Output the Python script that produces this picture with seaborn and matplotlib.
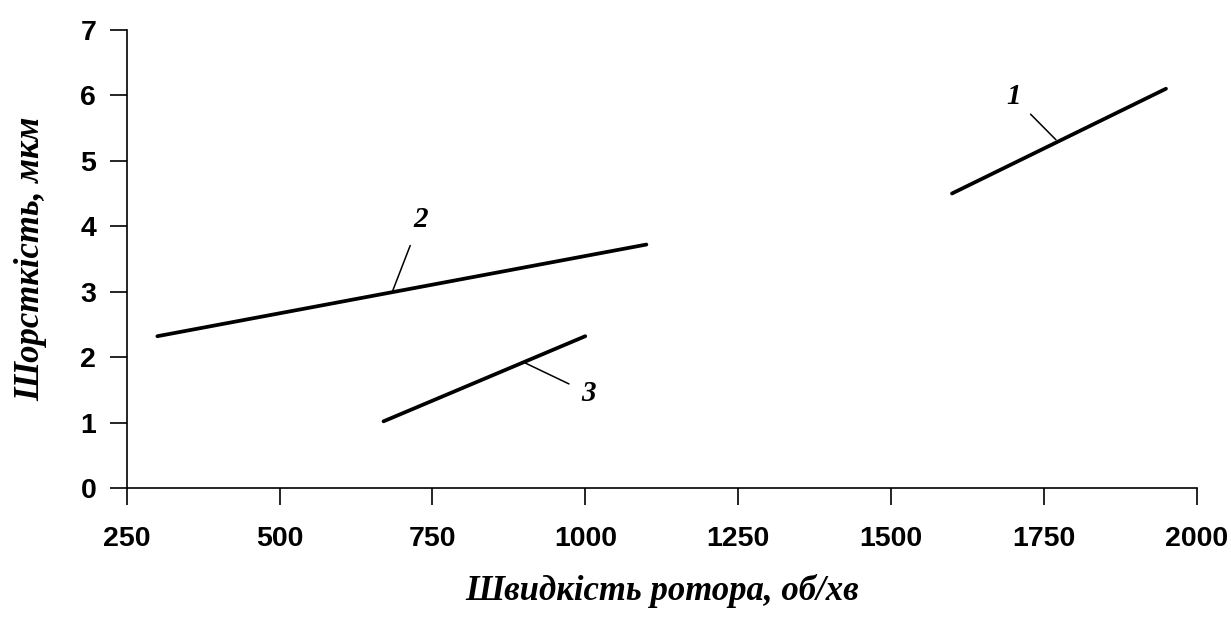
import matplotlib
matplotlib.use("Agg")
import matplotlib.pyplot as plt
import seaborn as sns
import pandas as pd

# Data
curve_names = ["1", "2", "3"]
speed_1 = [1600, 1950]
rough_1 = [4.5, 6.1]
speed_2 = [300, 1100]
rough_2 = [2.32, 3.72]
speed_3 = [670, 1000]
rough_3 = [1.02, 2.32]

x_ticks = [250, 500, 750, 1000, 1250, 1500, 1750, 2000]
y_ticks = [0, 1, 2, 3, 4, 5, 6, 7]

# label positions (text) and points on lines (leader targets)
label_text_xy = [(1700, 5.98), (730, 4.1), (1005, 1.45)]
label_point_xy = [(1770, 5.32), (684, 2.99), (902, 1.91)]

x_label = "Швидкість ротора, об/хв"
y_label = "Шорсткість, мкм"

df = pd.concat([
    pd.DataFrame({"speed": speed_1, "rough": rough_1, "curve": "1"}),
    pd.DataFrame({"speed": speed_2, "rough": rough_2, "curve": "2"}),
    pd.DataFrame({"speed": speed_3, "rough": rough_3, "curve": "3"}),
])

sns.set_theme(style="ticks")
plt.rcParams["font.family"] = ["Liberation Sans", "DejaVu Sans"]
plt.rcParams["text.color"] = "black"
plt.rcParams["axes.labelcolor"] = "black"
plt.rcParams["xtick.color"] = "black"
plt.rcParams["ytick.color"] = "black"

fig = plt.figure(figsize=(12.31, 6.21), dpi=100)
ax = fig.add_axes([0.103, 0.214, 0.869, 0.738])

sns.lineplot(data=df, x="speed", y="rough", hue="curve",
             palette={"1": "black", "2": "black", "3": "black"},
             linewidth=2.7, legend=False, ax=ax, estimator=None, sort=False)

ax.set_xlim(250, 2000)
ax.set_ylim(0, 7)
ax.set_xticks(x_ticks)
ax.set_yticks(y_ticks)
ax.set_xticklabels([str(v) for v in x_ticks], fontweight="bold", fontsize=20.5)
ax.set_yticklabels([str(v) for v in y_ticks], fontweight="bold", fontsize=20.5)
ax.tick_params(axis="both", direction="out", length=12, width=1.2,
               color="black", labelcolor="black")
ax.tick_params(axis="y", pad=10)
ax.tick_params(axis="x", pad=15)
for s in ["top", "right"]:
    ax.spines[s].set_visible(False)
for s in ["left", "bottom"]:
    ax.spines[s].set_linewidth(1.2)
    ax.spines[s].set_color("black")

serif = ["Liberation Serif", "DejaVu Serif"]
ax.set_xlabel(x_label, family=serif, fontstyle="italic", fontweight="bold",
              fontsize=25, labelpad=16, color="black")
ax.set_ylabel(y_label, family=serif, fontstyle="italic", fontweight="bold",
              fontsize=25, labelpad=24, color="black")

for name, txy, pxy in zip(curve_names, label_text_xy, label_point_xy):
    ax.annotate(name, xy=pxy, xytext=txy, family=serif, fontstyle="italic",
                fontweight="bold", fontsize=21, ha="center", va="center",
                color="black",
                arrowprops=dict(arrowstyle="-", color="black", lw=1.1,
                                shrinkA=7, shrinkB=0))

ax.set_facecolor("white")
fig.patch.set_facecolor("white")
fig.savefig("out.png", dpi=100)
